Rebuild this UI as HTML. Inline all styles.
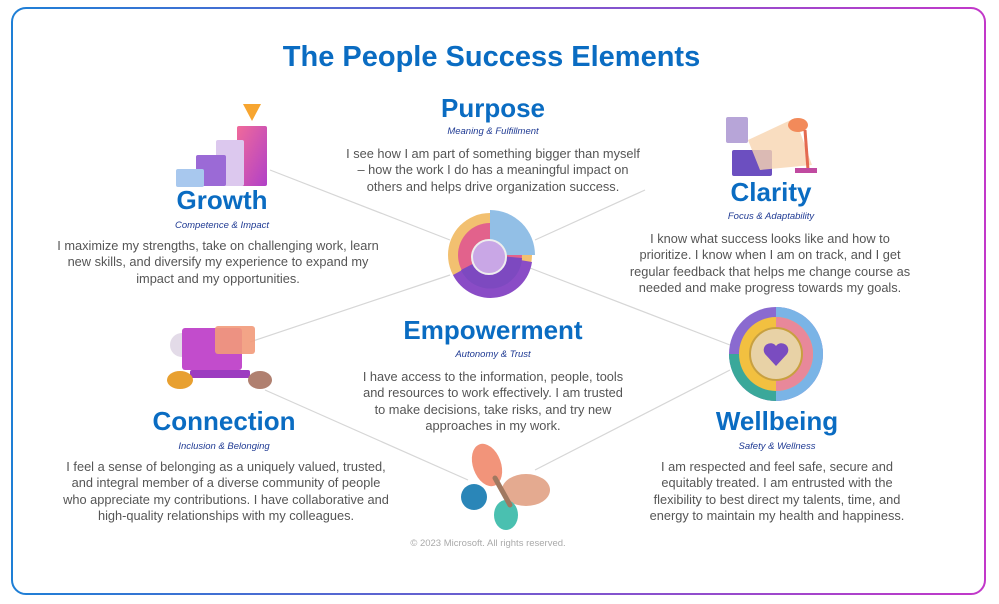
<!DOCTYPE html>
<html><head><meta charset="utf-8"><style>
body{margin:0;width:999px;height:604px;background:#fff;position:relative;overflow:hidden;font-family:"Liberation Sans",sans-serif}
.t{position:absolute;text-align:center;white-space:nowrap}
.h{color:#0a6cc2;font-weight:bold;font-size:26px;line-height:30px}
.s{color:#1f3a93;font-style:italic;font-size:9.5px;line-height:12px}
.b{color:#555;font-size:12.8px;line-height:16.3px}
</style></head><body>
<svg width="999" height="604" style="position:absolute;left:0;top:0">
<defs>
<linearGradient id="bd" x1="0" x2="1"><stop offset="0" stop-color="#1e7fd6"/><stop offset="1" stop-color="#c238c9"/></linearGradient>
<linearGradient id="pk" x1="0" y1="0" x2="1" y2="1"><stop offset="0" stop-color="#f06a9a"/><stop offset="1" stop-color="#b040c8"/></linearGradient>
</defs>
<rect x="12" y="8" width="973" height="586" rx="14" fill="none" stroke="url(#bd)" stroke-width="2"/>
<g stroke="#d6d6d6" stroke-width="1.2">
<line x1="270" y1="170" x2="450" y2="240"/>
<line x1="250" y1="342" x2="450" y2="275"/>
<line x1="535" y1="240" x2="645" y2="190"/>
<line x1="530" y1="268" x2="730" y2="345"/>
<line x1="265" y1="390" x2="468" y2="480"/>
<line x1="535" y1="470" x2="730" y2="370"/>
</g>
<polygon points="243,104 261,104 252,121" fill="#f7a530"/>
<rect x="237" y="126" width="30" height="60" rx="2" fill="url(#pk)"/>
<rect x="216" y="140" width="28" height="46" rx="2" fill="#dcc8ee"/>
<rect x="196" y="155" width="30" height="31" rx="2" fill="#9b6ad6"/>
<rect x="176" y="169" width="28" height="18" rx="2" fill="#a8c8ee"/>
<circle cx="490" cy="255" r="42" fill="#f2c070"/>
<path d="M490,255 L453,275 A42,42 0 0 0 532,262 Z" fill="#8a4cc6"/>
<circle cx="490" cy="255" r="32" fill="#e0588f" opacity="0.9"/>
<path d="M490,255 L461,270 A32,32 0 0 0 522,258 Z" fill="#7d49c0"/>
<path d="M490,210 A45,45 0 0 1 535,255 L490,255 Z" fill="#92bfe6"/>
<circle cx="489" cy="257" r="17" fill="#c9a7e6" stroke="#eee" stroke-width="2"/>
<rect x="726" y="117" width="22" height="26" rx="2" fill="#b7a5d8"/>
<rect x="732" y="150" width="40" height="26" rx="2" fill="#6c4fc0"/>
<polygon points="748,140 795,118 812,165 760,170" fill="#f7d4b0" opacity="0.8"/>
<ellipse cx="798" cy="125" rx="10" ry="7" fill="#f28a5a"/>
<line x1="805" y1="130" x2="808" y2="170" stroke="#e46a50" stroke-width="3"/>
<rect x="795" y="168" width="22" height="5" fill="#c04aa0"/>
<circle cx="182" cy="345" r="12" fill="#e3dbe8"/>
<rect x="182" y="328" width="60" height="42" rx="3" fill="#c24ccc"/>
<rect x="215" y="326" width="40" height="28" rx="3" fill="#f29a7a" opacity="0.9"/>
<rect x="190" y="370" width="60" height="8" rx="2" fill="#9c3cc0"/>
<ellipse cx="180" cy="380" rx="13" ry="9" fill="#e8a030"/>
<ellipse cx="260" cy="380" rx="12" ry="9" fill="#b08070"/>
<circle cx="776" cy="354" r="47" fill="#8a6ad0"/>
<path d="M776,307 A47,47 0 0 1 776,401 Z" fill="#7ab4e6"/>
<path d="M776,354 L776,401 A47,47 0 0 1 729,354 Z" fill="#3aa89a"/>
<circle cx="776" cy="354" r="37" fill="#f2c040"/>
<path d="M776,317 A37,37 0 0 1 776,391 Z" fill="#e8889a"/>
<circle cx="776" cy="354" r="26" fill="#e8d2a6" stroke="#c8a040" stroke-width="2"/>
<path d="M776,366 L765,354 A6,6 0 0 1 776,346 A6,6 0 0 1 787,354 Z" fill="#7a4cc0"/>
<ellipse cx="487" cy="465" rx="14" ry="22" fill="#f2947a" transform="rotate(-20 487 465)"/>
<ellipse cx="526" cy="490" rx="24" ry="16" fill="#e4aa90"/>
<ellipse cx="474" cy="497" rx="13" ry="13" fill="#2a86b8"/>
<ellipse cx="506" cy="515" rx="12" ry="15" fill="#4ac0b0"/>
<line x1="495" y1="478" x2="510" y2="505" stroke="#a07860" stroke-width="5" stroke-linecap="round"/>
</svg>
<div class="t" style="left:0;width:983px;top:40px;color:#0a6cc2;font-weight:bold;font-size:29px;line-height:34px">The People Success Elements</div>

<div class="t h" style="left:393px;width:200px;top:93px">Purpose</div>
<div class="t s" style="left:393px;width:200px;top:126px">Meaning &amp; Fulfillment</div>
<div class="t b" style="left:293px;width:400px;top:146px">I see how I am part of something bigger than myself<br>– how the work I do has a meaningful impact on<br>others and helps drive organization success.</div>

<div class="t h" style="left:122px;width:200px;top:185px">Growth</div>
<div class="t s" style="left:122px;width:200px;top:220px">Competence &amp; Impact</div>
<div class="t b" style="left:18px;width:400px;top:238px">I maximize my strengths, take on challenging work, learn<br>new skills, and diversify my experience to expand my<br>impact and my opportunities.</div>

<div class="t h" style="left:671px;width:200px;top:177px">Clarity</div>
<div class="t s" style="left:671px;width:200px;top:211px">Focus &amp; Adaptability</div>
<div class="t b" style="left:570px;width:400px;top:231px">I know what success looks like and how to<br>prioritize. I know when I am on track, and I get<br>regular feedback that helps me change course as<br>needed and make progress towards my goals.</div>

<div class="t h" style="left:343px;width:300px;top:315px">Empowerment</div>
<div class="t s" style="left:393px;width:200px;top:349px">Autonomy &amp; Trust</div>
<div class="t b" style="left:293px;width:400px;top:369px">I have access to the information, people, tools<br>and resources to work effectively. I am trusted<br>to make decisions, take risks, and try new<br>approaches in my work.</div>

<div class="t h" style="left:124px;width:200px;top:406px">Connection</div>
<div class="t s" style="left:124px;width:200px;top:441px">Inclusion &amp; Belonging</div>
<div class="t b" style="left:26px;width:400px;top:459px">I feel a sense of belonging as a uniquely valued, trusted,<br>and integral member of a diverse community of people<br>who appreciate my contributions. I have collaborative and<br>high-quality relationships with my colleagues.</div>

<div class="t h" style="left:677px;width:200px;top:406px">Wellbeing</div>
<div class="t s" style="left:677px;width:200px;top:441px">Safety &amp; Wellness</div>
<div class="t b" style="left:577px;width:400px;top:459px">I am respected and feel safe, secure and<br>equitably treated. I am entrusted with the<br>flexibility to best direct my talents, time, and<br>energy to maintain my health and happiness.</div>

<div class="t" style="left:338px;width:300px;top:538px;color:#aaa;font-size:9.5px">© 2023 Microsoft. All rights reserved.</div>
</body></html>
